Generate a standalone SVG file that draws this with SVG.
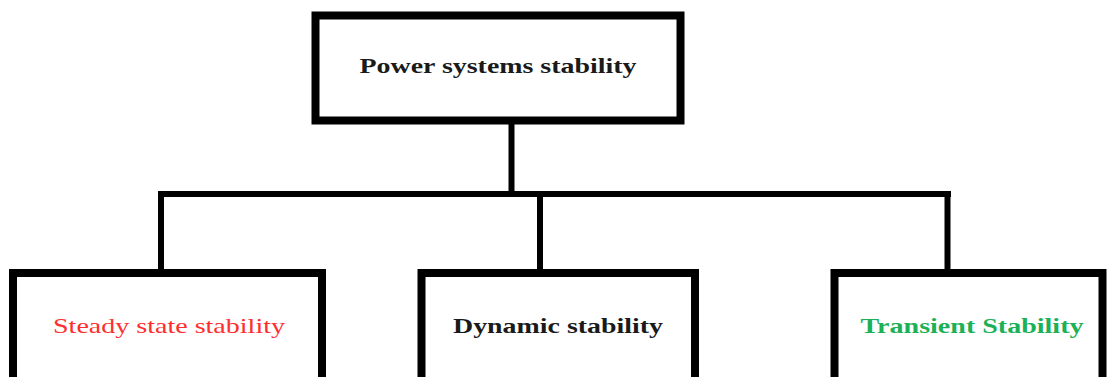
<svg xmlns="http://www.w3.org/2000/svg" width="1107" height="377" viewBox="0 0 1107 377">
<style>
.box{fill:#ffffff;stroke:#000000;stroke-width:8}
.lbl{font-family:"Liberation Serif","Times New Roman",serif;font-size:21px;text-anchor:middle}
.b{font-weight:bold}
.conn{stroke:#000000;stroke-width:6;fill:none}
</style>
<rect width="1107" height="377" fill="#ffffff"/>
<g id="connectors">
<line class="conn" x1="511.5" y1="120" x2="511.5" y2="194" stroke-width="7"/>
<line class="conn" x1="158" y1="194" x2="951" y2="194"/>
<polyline class="conn" points="161,194 161,270" stroke-width="7"/>
<polyline class="conn" points="540,194 540,270"/>
<polyline class="conn" points="947.5,194 947.5,270" stroke-width="7"/>
</g>
<g id="node-power">
<rect class="box" x="315.5" y="15.5" width="365" height="105"/>
<text class="lbl b" x="498" y="73" textLength="277" lengthAdjust="spacingAndGlyphs" fill="#1a1a1a">Power systems stability</text>
</g>
<g id="node-steady">
<rect class="box" x="13" y="273" width="309" height="130"/>
<text class="lbl" x="169" y="333" textLength="232" lengthAdjust="spacingAndGlyphs" fill="#ff2d2d">Steady state stability</text>
</g>
<g id="node-dynamic">
<rect class="box" x="421.5" y="273" width="273.5" height="130"/>
<text class="lbl b" x="558" y="333" textLength="210" lengthAdjust="spacingAndGlyphs" fill="#1a1a1a">Dynamic stability</text>
</g>
<g id="node-transient">
<rect class="box" x="834.5" y="273" width="268" height="130"/>
<text class="lbl b" x="972" y="333" textLength="223" lengthAdjust="spacingAndGlyphs" fill="#1db157">Transient Stability</text>
</g>
</svg>
